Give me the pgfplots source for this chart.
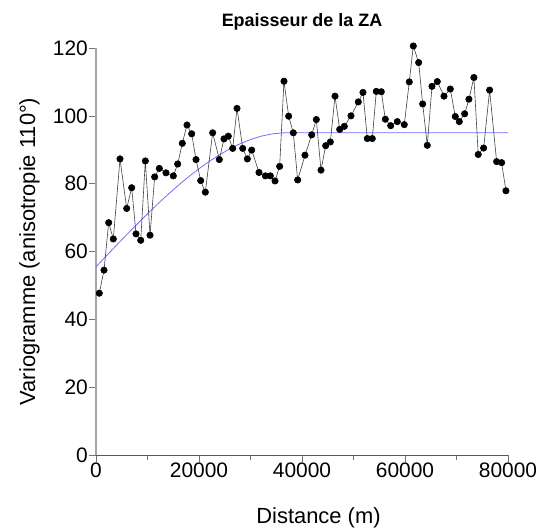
\documentclass[border=0pt]{standalone}
\usepackage{pgfplots}
\pgfplotsset{compat=1.18}
\usepackage{fontspec}
\setmainfont{Liberation Sans}
\begin{document}
\begin{tikzpicture}
\begin{axis}[
 scale only axis, width=412bp, height=407bp,
 xmin=0, xmax=80000, ymin=0, ymax=120,
 axis lines*=left,
 x axis line style={black!65, line width=0.8bp},
 y axis line style={black!35, line width=1.2bp},
 xtick={0,20000,40000,60000,80000}, minor xtick={10000,30000,50000,70000},
 ytick={0,20,40,60,80,100,120},
 tick align=outside,
 major tick length=7bp, minor tick length=5bp,
 tick style={black!55, line width=0.6bp},
 scaled x ticks=false,
 xticklabel style={/pgf/number format/1000 sep={}},
 /pgf/number format/assume math mode=true,
 ticklabel style={font=\fontsize{21}{25}\selectfont, inner sep=1bp},
 title={Epaisseur de la ZA},
 title style={font=\bfseries\fontsize{18}{22}\selectfont, at={(axis description cs:0.5,1.0393)}, anchor=base},
 xlabel={Distance (m)},
 xlabel style={font=\fontsize{22}{26}\selectfont, at={(axis description cs:0.54,-0.1695)}, anchor=base},
 ylabel={Variogramme (anisotropie 110°)},
 ylabel style={font=\fontsize{22}{26}\selectfont, at={(axis description cs:-0.148,0.5)}, anchor=base},
 clip=false,
]
\coordinate (SW) at (rel axis cs:0,0);
\coordinate (NE) at (rel axis cs:1,1);
\addplot[color={rgb,255:red,110;green,110;blue,255}, line width=0.8bp] coordinates {
(0,55.5) (2000,58.70) (4000,61.88) (6000,65.02) (8000,68.11) (10000,71.12)
(12000,74.04) (14000,76.85) (16000,79.52) (18000,82.05) (20000,84.41)
(22000,86.58) (24000,88.54) (26000,90.28) (28000,91.78) (30000,93.01)
(32000,93.97) (34000,94.62) (36000,94.96) (37000,95.0) (80000,95.0)
};
\addplot[black!75, line width=0.6bp, mark=*, mark size=3.2bp, mark options={fill=black, draw=black}] table {
x y
640 47.7
1553 54.5
2460 68.5
3360 63.7
4660 87.3
5960 72.7
6930 78.8
7770 65.2
8680 63.3
9580 86.7
10490 64.8
11390 82.0
12300 84.5
13590 83.2
15010 82.3
15860 85.8
16760 91.9
17670 97.3
18580 94.7
19420 87.1
20330 80.9
21230 77.5
22650 95.0
23950 87.1
24850 93.2
25690 94.0
26540 90.4
27380 102.2
28490 90.4
29390 87.3
30230 89.9
31650 83.3
32880 82.3
33850 82.3
34760 80.8
35660 85.1
36500 110.2
37410 99.9
38310 95.0
39160 81.1
40580 88.4
41880 94.4
42780 98.9
43690 84.0
44600 91.2
45500 92.3
46410 105.8
47320 96.0
48220 96.9
49510 100.0
50930 104.1
51840 106.9
52680 93.3
53650 93.3
54430 107.2
55400 107.1
56180 99.0
57220 97.1
58500 98.3
59860 97.4
60830 110.0
61610 120.6
62650 115.7
63430 103.5
64330 91.3
65240 108.7
66270 110.1
67570 105.8
68790 107.9
69760 99.8
70540 98.3
71580 100.6
72410 104.9
73380 111.3
74220 88.6
75270 90.5
76430 107.6
77790 86.5
78760 86.2
79600 77.9
};
\end{axis}
\pgfresetboundingbox
\path ([shift={(-96bp,-73bp)}]SW) rectangle ([shift={(31bp,48bp)}]NE);
\end{tikzpicture}
\end{document}
